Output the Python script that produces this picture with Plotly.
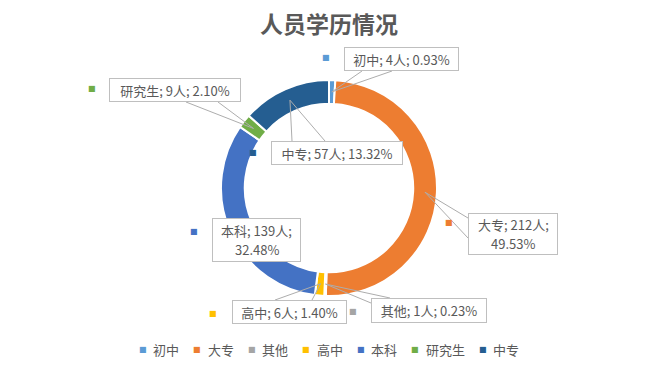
import math
import plotly.graph_objects as go

# ---- data ----
categories = ["初中", "大专", "其他", "高中", "本科", "研究生", "中专"]
counts = [4, 212, 1, 6, 139, 9, 57]
colors = ["#5B9BD5", "#ED7D31", "#A5A5A5", "#FFC000", "#4472C4", "#70AD47", "#255E91"]
unit = "人"
title_text = "人员学历情况"

W, H = 658, 373
CX, CY, R = 329, 188, 108
HOLE = 0.78
TIP_R = R * (1 + HOLE) / 2

TXT = "#595959"
LINE = "#ADADAD"
FONT = "Noto Sans CJK SC"

# label layout (pixel boxes: x0, y0, x1, y1), marker centre, wedge base points
layout_info = {
    "初中": dict(box=(344, 47, 459, 71), mk=(326, 57), base=[(362, 71), (392, 71)], wrap=False),
    "大专": dict(box=(468, 213, 558, 255), mk=(449, 223), base=[(468, 218), (468, 238)], wrap=True),
    "其他": dict(box=(371, 298, 487, 323), mk=(353, 311), base=[(371, 303), (390, 298)], wrap=False),
    "高中": dict(box=(232, 300, 347, 324), mk=(213, 313), base=[(275, 300), (312, 300)], wrap=False),
    "本科": dict(box=(212, 218, 301, 262), mk=(194, 231), base=None, wrap=True),
    "研究生": dict(box=(109, 78, 241, 102), mk=(92, 89), base=[(186, 102), (218, 102)], wrap=False),
    "中专": dict(box=(271, 141, 403, 165), mk=(253, 152), base=[(292, 141), (325, 141)], wrap=False),
}

def px(x):
    return x / W

def py(y):
    return 1 - y / H

fig = go.Figure()
fig.add_trace(go.Pie(
    labels=categories, values=counts, sort=False, direction="clockwise", rotation=0,
    hole=HOLE, textinfo="none", hoverinfo="label+value+percent",
    marker=dict(colors=colors, line=dict(color="white", width=2)),
    domain=dict(x=[px(CX - R), px(CX + R)], y=[py(CY + R), py(CY - R)]),
    showlegend=False,
))

total = sum(counts)
annotations = []
shapes = []
cum = 0
pad = 3
lab_font = dict(family=FONT, size=13, color=TXT)
for cat, val, col in zip(categories, counts, colors):
    mid = (cum + val / 2) / total * 2 * math.pi
    cum += val
    tip = (CX + TIP_R * math.sin(mid), CY - TIP_R * math.cos(mid))
    info = layout_info[cat]
    line1 = f"{cat}; {val}{unit};"
    line2 = f"{val / total * 100:.2f}%"
    x0, y0, x1, y1 = info["box"]
    if info["base"]:
        (bx1, by1), (bx2, by2) = info["base"]
        shapes.append(dict(
            type="path", xref="paper", yref="paper",
            path=f"M {px(bx1)},{py(by1)} L {px(tip[0])},{py(tip[1])} L {px(bx2)},{py(by2)}",
            line=dict(color=LINE, width=1), layer="above",
        ))
    box = dict(
        x=px(x0), y=py(y0), xref="paper", yref="paper",
        xanchor="left", yanchor="top", showarrow=False,
        width=(x1 - x0) - 2 * (1 + pad), height=(y1 - y0) - 2 * (1 + pad),
        borderpad=pad, bordercolor="#BFBFBF", borderwidth=1, bgcolor="white",
        font=lab_font, align="center", valign="middle",
    )
    if info["wrap"]:
        box["text"] = " "
        annotations.append(box)
        cxp, cyp = (x0 + x1) / 2, (y0 + y1) / 2
        for ln, dy in ((line1, -9.5), (line2, 9.5)):
            annotations.append(dict(
                text=ln, x=px(cxp), y=py(cyp + dy), xref="paper", yref="paper",
                xanchor="center", yanchor="middle", showarrow=False, font=lab_font,
            ))
    else:
        box["text"] = f"{line1} {line2}"
        annotations.append(box)
    mx, my = info["mk"]
    annotations.append(dict(
        text="■", x=px(mx), y=py(my), xref="paper", yref="paper",
        xanchor="center", yanchor="middle", showarrow=False,
        font=dict(family="DejaVu Sans", size=8, color=col),
    ))

# bottom legend built from categories
LEG_Y = 349
lx = 142.7
for cat, col in zip(categories, colors):
    annotations.append(dict(
        text="■", x=px(lx), y=py(LEG_Y), xref="paper", yref="paper",
        xanchor="center", yanchor="middle", showarrow=False,
        font=dict(family="DejaVu Sans", size=8, color=col),
    ))
    annotations.append(dict(
        text=cat, x=px(lx + 8.5), y=py(LEG_Y), xref="paper", yref="paper",
        xanchor="left", yanchor="middle", showarrow=False, font=lab_font,
    ))
    lx += 13 * len(cat) + 28.5

fig.update_layout(
    width=W, height=H,
    margin=dict(l=0, r=0, t=0, b=0),
    paper_bgcolor="white", plot_bgcolor="white",
    title=dict(text=f"<b>{title_text}</b>", x=0.5, xanchor="center",
               y=py(25), yanchor="middle", yref="container",
               font=dict(family=FONT, size=23, color=TXT)),
    annotations=annotations, shapes=shapes,
    showlegend=False,
)

fig.write_html("out.html", config={"displayModeBar": False},
               post_script="document.body.style.margin='0';")
